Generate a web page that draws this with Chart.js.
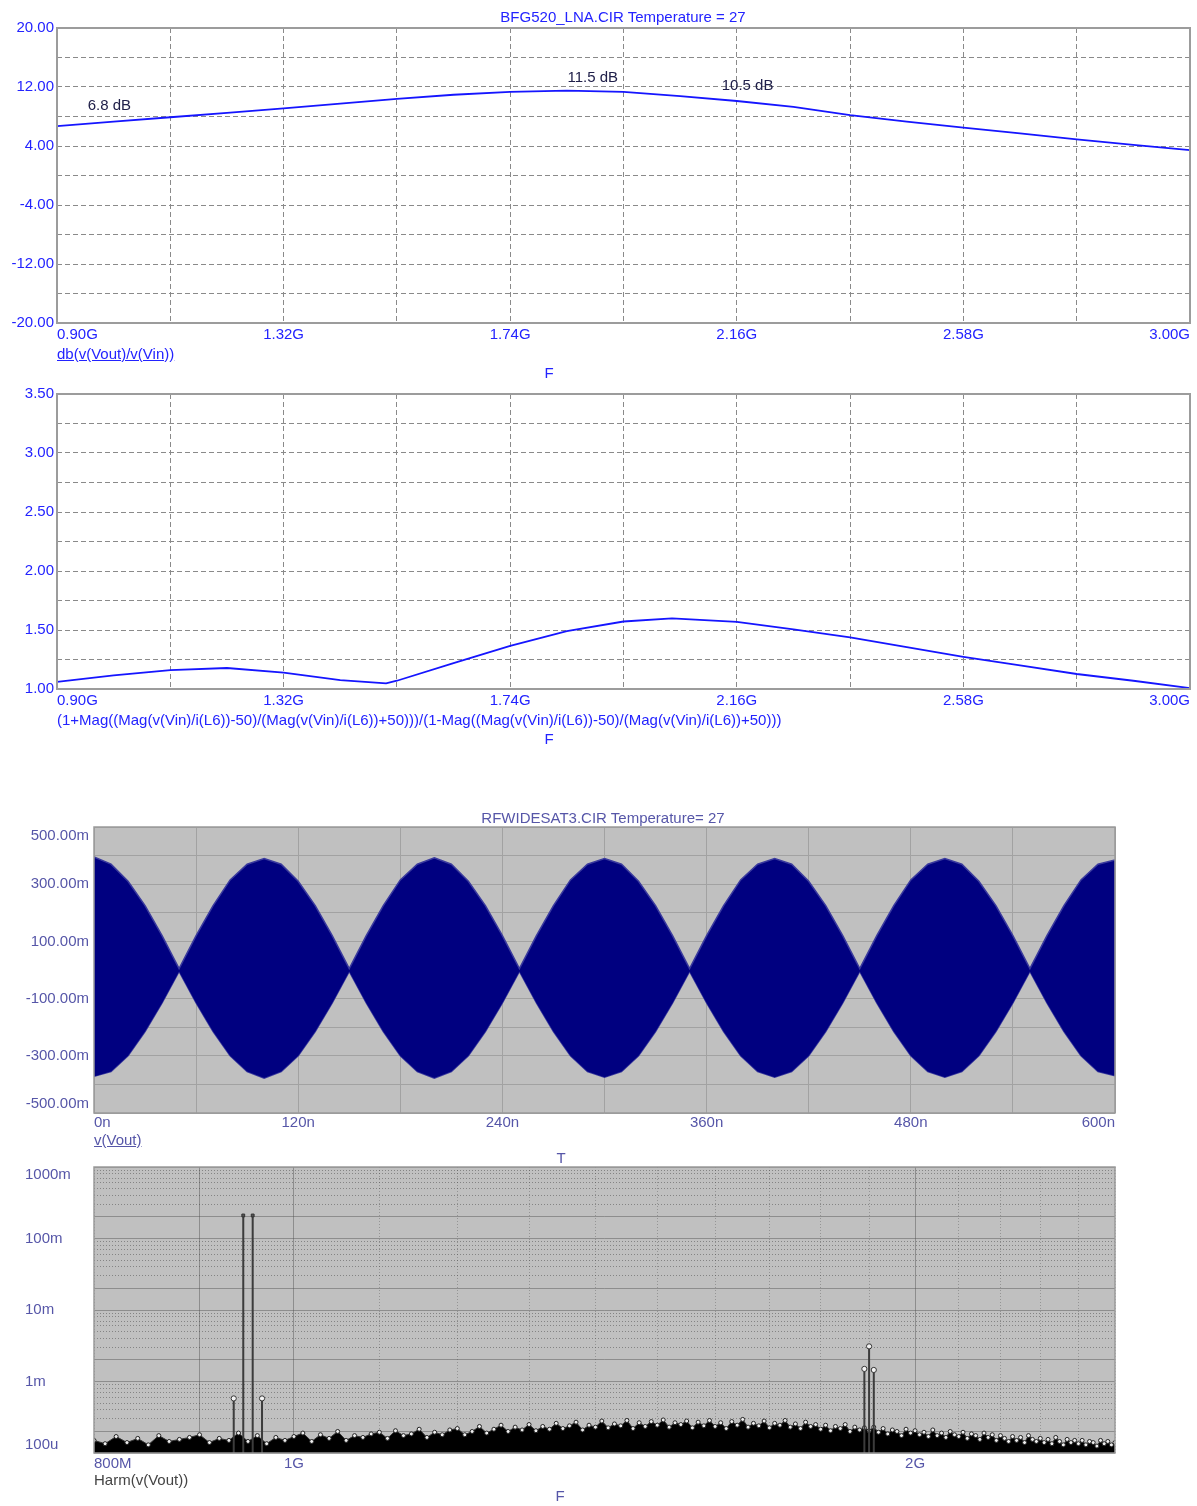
<!DOCTYPE html>
<html>
<head>
<meta charset="utf-8">
<title>BFG520 LNA / RFWIDESAT3</title>
<script src="https://cdn.jsdelivr.net/npm/chart.js@4.4.1/dist/chart.umd.min.js"></script>
<style>
  body { margin: 0; background: #fff; font-family: "Liberation Sans", Arial, sans-serif; }
  #page { position: relative; width: 1197px; height: 1506px; overflow: hidden; }
  canvas { position: absolute; left: 0; }
  .lbl { position: absolute; font-size: 15px; line-height: 16px; white-space: nowrap; }
  .mid { transform: translateX(-50%); }
  .blue { color: #2323ff; }
  .slate { color: #5656a8; }
</style>
</head>
<body>
<div id="page">
  <canvas id="gainChart" width="1197" height="350" style="top:0px"></canvas>
  <canvas id="vswrChart" width="1197" height="335" style="top:380px"></canvas>
  <canvas id="waveChart" width="1197" height="335" style="top:800px"></canvas>
  <canvas id="harmChart" width="1197" height="330" style="top:1150px"></canvas>

  <div class="lbl mid blue" style="left:623px;top:9px">BFG520_LNA.CIR Temperature = 27</div>
  <div class="lbl blue" style="left:57px;top:346px;text-decoration:underline">db(v(Vout)/v(Vin))</div>
  <div class="lbl mid blue" style="left:549px;top:365px">F</div>
  <div class="lbl blue" style="left:57px;top:712px">(1+Mag((Mag(v(Vin)/i(L6))-50)/(Mag(v(Vin)/i(L6))+50)))/(1-Mag((Mag(v(Vin)/i(L6))-50)/(Mag(v(Vin)/i(L6))+50)))</div>
  <div class="lbl mid blue" style="left:549px;top:731px">F</div>
  <div class="lbl mid slate" style="left:603px;top:810px">RFWIDESAT3.CIR Temperature= 27</div>
  <div class="lbl slate" style="left:94px;top:1132px;text-decoration:underline">v(Vout)</div>
  <div class="lbl mid slate" style="left:561px;top:1150px">T</div>
  <div class="lbl" style="left:94px;top:1472px;color:#444">Harm(v(Vout))</div>
  <div class="lbl mid slate" style="left:560px;top:1488px">F</div>
</div>

<script>
// --- gain, dB vs GHz
const gainFreqGHz = [0.900, 1.005, 1.110, 1.215, 1.320, 1.425, 1.530, 1.635, 1.740, 1.845, 1.950,
                     2.055, 2.160, 2.265, 2.370, 2.475, 2.580, 2.685, 2.790, 2.895, 3.000];
const gainDb = [6.7, 7.3, 7.9, 8.5, 9.1, 9.75, 10.4, 10.95, 11.35, 11.5, 11.35,
                10.75, 10.1, 9.3, 8.2, 7.3, 6.5, 5.7, 4.9, 4.15, 3.45];
const gainNotes = ['6.8 dB', '11.5 dB', '10.5 dB'];
const gainNoteFreq = [0.997, 1.893, 2.18];
const gainNoteDb = [9.4, 13.3, 12.1];

// --- input VSWR vs GHz
const vswrFreqGHz = [0.900, 1.005, 1.110, 1.215, 1.320, 1.425, 1.510, 1.530, 1.635, 1.740, 1.845,
                     1.950, 2.040, 2.160, 2.265, 2.370, 2.475, 2.580, 2.685, 2.790, 2.895, 3.000];
const vswr = [1.06, 1.115, 1.16, 1.178, 1.138, 1.075, 1.048, 1.07, 1.22, 1.366, 1.49,
              1.572, 1.598, 1.569, 1.505, 1.437, 1.355, 1.273, 1.2, 1.127, 1.07, 1.008];

// shared frequency axis of the two top plots
const fGrid = [0.90, 1.11, 1.32, 1.53, 1.74, 1.95, 2.16, 2.37, 2.58, 2.79, 3.00];
const fLabels = ['0.90G', '', '1.32G', '', '1.74G', '', '2.16G', '', '2.58G', '', '3.00G'];
const gainGrid = [-20, -16, -12, -8, -4, 0, 4, 8, 12, 16, 20];
const gainLabels = ['-20.00', '', '-12.00', '', '-4.00', '', '4.00', '', '12.00', '', '20.00'];
const vswrGrid = [1.00, 1.25, 1.50, 1.75, 2.00, 2.25, 2.50, 2.75, 3.00, 3.25, 3.50];
const vswrLabels = ['1.00', '', '1.50', '', '2.00', '', '2.50', '', '3.00', '', '3.50'];

// --- transient v(Vout): envelope of the two-tone signal, ns / V
const waveTimeNs = [0, 10, 20, 30, 40, 50, 60, 70, 80, 90, 100, 110, 120, 130, 140, 150, 160, 170, 180, 190,
                    200, 210, 220, 230, 240, 250, 260, 270, 280, 290, 300, 310, 320, 330, 340, 350, 360, 370, 380, 390,
                    400, 410, 420, 430, 440, 450, 460, 470, 480, 490, 500, 510, 520, 530, 540, 550, 560, 570, 580, 590, 600];
const waveUpper = [0.395, 0.37, 0.31, 0.225, 0.12, 0.005, 0.12, 0.225, 0.315, 0.37, 0.39, 0.37, 0.31, 0.225, 0.12, 0.005, 0.12, 0.225, 0.315, 0.37,
                   0.392, 0.37, 0.31, 0.225, 0.12, 0.005, 0.12, 0.225, 0.315, 0.37, 0.39, 0.37, 0.31, 0.225, 0.12, 0.005, 0.12, 0.225, 0.315, 0.37,
                   0.39, 0.37, 0.31, 0.225, 0.12, 0.005, 0.12, 0.225, 0.315, 0.37, 0.39, 0.37, 0.31, 0.225, 0.12, 0.005, 0.12, 0.225, 0.315, 0.37, 0.385];
const waveLower = [-0.372, -0.355, -0.3, -0.215, -0.115, -0.005, -0.115, -0.215, -0.3, -0.355, -0.378, -0.355, -0.3, -0.215, -0.115, -0.005, -0.115, -0.215, -0.3, -0.355,
                   -0.378, -0.355, -0.3, -0.215, -0.115, -0.005, -0.115, -0.215, -0.3, -0.355, -0.375, -0.355, -0.3, -0.215, -0.115, -0.005, -0.115, -0.215, -0.3, -0.355,
                   -0.375, -0.355, -0.3, -0.215, -0.115, -0.005, -0.115, -0.215, -0.3, -0.355, -0.375, -0.355, -0.3, -0.215, -0.115, -0.005, -0.115, -0.215, -0.3, -0.355, -0.37];
const waveTGrid = [0, 60, 120, 180, 240, 300, 360, 420, 480, 540, 600];
const waveTLabels = ['0n', '', '120n', '', '240n', '', '360n', '', '480n', '', '600n'];
const waveVGrid = [-0.5, -0.4, -0.3, -0.2, -0.1, 0, 0.1, 0.2, 0.3, 0.4, 0.5];
const waveVLabelValues = [0.5, 0.3, 0.1, -0.1, -0.3, -0.5];
const waveVLabels = ['500.00m', '300.00m', '100.00m', '-100.00m', '-300.00m', '-500.00m'];

// --- Harm(v(Vout)) spectrum: noise floor every 10 MHz from 0.80 to 2.50 GHz, in uV
const noiseFreqGHz = [
  0.80, 0.81, 0.82, 0.83, 0.84, 0.85, 0.86, 0.87, 0.88, 0.89,
  0.90, 0.91, 0.92, 0.93, 0.94, 0.95, 0.96, 0.97, 0.98, 0.99,
  1.00, 1.01, 1.02, 1.03, 1.04, 1.05, 1.06, 1.07, 1.08, 1.09,
  1.10, 1.11, 1.12, 1.13, 1.14, 1.15, 1.16, 1.17, 1.18, 1.19,
  1.20, 1.21, 1.22, 1.23, 1.24, 1.25, 1.26, 1.27, 1.28, 1.29,
  1.30, 1.31, 1.32, 1.33, 1.34, 1.35, 1.36, 1.37, 1.38, 1.39,
  1.40, 1.41, 1.42, 1.43, 1.44, 1.45, 1.46, 1.47, 1.48, 1.49,
  1.50, 1.51, 1.52, 1.53, 1.54, 1.55, 1.56, 1.57, 1.58, 1.59,
  1.60, 1.61, 1.62, 1.63, 1.64, 1.65, 1.66, 1.67, 1.68, 1.69,
  1.70, 1.71, 1.72, 1.73, 1.74, 1.75, 1.76, 1.77, 1.78, 1.79,
  1.80, 1.81, 1.82, 1.83, 1.84, 1.85, 1.86, 1.87, 1.88, 1.89,
  1.90, 1.91, 1.92, 1.93, 1.94, 1.95, 1.96, 1.97, 1.98, 1.99,
  2.00, 2.01, 2.02, 2.03, 2.04, 2.05, 2.06, 2.07, 2.08, 2.09,
  2.10, 2.11, 2.12, 2.13, 2.14, 2.15, 2.16, 2.17, 2.18, 2.19,
  2.20, 2.21, 2.22, 2.23, 2.24, 2.25, 2.26, 2.27, 2.28, 2.29,
  2.30, 2.31, 2.32, 2.33, 2.34, 2.35, 2.36, 2.37, 2.38, 2.39,
  2.40, 2.41, 2.42, 2.43, 2.44, 2.45, 2.46, 2.47, 2.48, 2.49,
  2.50];
const noiseLevelUv = [
  150, 135, 170, 140, 160, 130, 175, 145, 155, 165,
  180, 140, 160, 150, 190, 145, 175, 135, 165, 150,
  170, 190, 145, 180, 160, 200, 150, 175, 165, 185,
  195, 160, 205, 175, 185, 215, 165, 195, 180, 210,
  220, 180, 200, 235, 190, 215, 245, 200, 230, 210,
  250, 205, 235, 215, 260, 220, 240, 270, 210, 245,
  230, 280, 225, 255, 240, 285, 220, 265, 235, 275,
  245, 290, 230, 265, 250, 280, 225, 270, 240, 285,
  235, 265, 220, 275, 245, 295, 230, 260, 240, 280,
  225, 260, 245, 285, 230, 255, 220, 270, 235, 250,
  215, 245, 205, 235, 220, 250, 200, 230, 210, 225,
  205, 230, 195, 220, 185, 210, 200, 175, 215, 190,
  205, 180, 195, 170, 210, 175, 190, 165, 200, 180,
  170, 195, 160, 185, 175, 155, 190, 165, 180, 150,
  175, 160, 145, 170, 150, 165, 140, 175, 155, 145,
  160, 140, 155, 135, 165, 145, 130, 155, 140, 150,
  135, 150, 130, 145, 140, 125, 150, 135, 145, 130,
  140];
const spikeFreqGHz = [0.935, 0.945, 0.955, 0.965, 1.89, 1.90, 1.91];
const spikeLevel = [5.8e-4, 0.21, 0.21, 5.8e-4, 1.5e-3, 3.1e-3, 1.45e-3];
const harmFGrid = [0.8, 0.9, 1.0, 1.1, 1.2, 1.3, 1.4, 1.5, 1.6, 1.7, 1.8, 1.9, 2.0, 2.1, 2.2, 2.3, 2.4, 2.5];
const harmFLabels = ['800M', '', '1G', '', '', '', '', '', '', '', '', '', '2G', '', '', '', '', ''];
const harmDecades = [1e-4, 1e-3, 1e-2, 1e-1, 1];
const harmVLabels = ['100u', '1m', '10m', '100m', '1000m'];

const fam = '"Liberation Sans", Arial, sans-serif';
const blue = '#2323ff';
const slate = '#5656a8';

const fixedTicks = values => s => { s.ticks = values.map(v => ({ value: v })); };

function plotFrame(fill, stroke, width) {
  return {
    id: 'plotFrame',
    beforeDraw(chart) {
      if (!fill) return;
      const a = chart.chartArea, ctx = chart.ctx;
      ctx.save();
      ctx.fillStyle = fill;
      ctx.fillRect(a.left, a.top, a.right - a.left, a.bottom - a.top);
      ctx.restore();
    },
    afterDraw(chart) {
      const a = chart.chartArea, ctx = chart.ctx;
      ctx.save();
      ctx.strokeStyle = stroke;
      ctx.lineWidth = width;
      ctx.strokeRect(a.left, a.top, a.right - a.left, a.bottom - a.top);
      ctx.restore();
    }
  };
}

// y labels kept inside the plot height, like the simulator does
function sideLabels(values, labels, align, dx, inset) {
  return {
    id: 'sideLabels',
    afterDraw(chart) {
      const a = chart.chartArea, ctx = chart.ctx, ys = chart.scales.y;
      ctx.save();
      ctx.font = '15px ' + fam;
      ctx.fillStyle = slate;
      ctx.textAlign = align;
      ctx.textBaseline = 'middle';
      values.forEach((v, i) => {
        const py = Math.min(Math.max(ys.getPixelForValue(v), a.top + inset), a.bottom - inset);
        ctx.fillText(labels[i], a.left + dx, py);
      });
      ctx.restore();
    }
  };
}

const gainNotesPlugin = {
  id: 'gainNotes',
  afterDatasetsDraw(chart) {
    const ctx = chart.ctx, xs = chart.scales.x, ys = chart.scales.y;
    ctx.save();
    ctx.font = '15px ' + fam;
    ctx.fillStyle = '#20204a';
    ctx.textAlign = 'center';
    ctx.textBaseline = 'middle';
    gainNotes.forEach((t, i) => ctx.fillText(t, xs.getPixelForValue(gainNoteFreq[i]), ys.getPixelForValue(gainNoteDb[i])));
    ctx.restore();
  }
};

function topPlot(id, freqs, vals, yMin, yMax, yGrid, yLabels, padTop, xHeight, extra) {
  return new Chart(document.getElementById(id), {
    type: 'line',
    data: {
      datasets: [{
        data: freqs.map((f, i) => ({ x: f, y: vals[i] })),
        borderColor: '#1515ff',
        borderWidth: 1.8,
        pointRadius: 0,
        tension: 0
      }]
    },
    options: {
      responsive: false,
      animation: false,
      events: [],
      layout: { padding: { top: padTop, right: 7, left: 0, bottom: 0 } },
      plugins: { legend: { display: false }, tooltip: { enabled: false } },
      scales: {
        x: {
          type: 'linear', min: 0.9, max: 3.0,
          afterBuildTicks: fixedTicks(fGrid),
          afterFit: s => { s.height = xHeight; },
          grid: { color: '#8a8a8a', lineWidth: 1, drawTicks: false },
          border: { display: false, dash: [5, 3] },
          ticks: {
            autoSkip: false, maxRotation: 0, align: 'inner', padding: 3,
            color: blue, font: { family: fam, size: 15 },
            callback: (v, i) => fLabels[i]
          }
        },
        y: {
          type: 'linear', min: yMin, max: yMax,
          afterBuildTicks: fixedTicks(yGrid),
          afterFit: s => { s.width = 57; },
          grid: { color: '#8a8a8a', lineWidth: 1, drawTicks: false },
          border: { display: false, dash: [5, 3] },
          ticks: {
            autoSkip: false, padding: 3,
            color: blue, font: { family: fam, size: 15 },
            callback: (v, i) => yLabels[i]
          }
        }
      }
    },
    plugins: [plotFrame(null, '#9c9c9c', 2)].concat(extra)
  });
}

topPlot('gainChart', gainFreqGHz, gainDb, -20, 20, gainGrid, gainLabels, 28, 27, [gainNotesPlugin]);
topPlot('vswrChart', vswrFreqGHz, vswr, 1, 3.5, vswrGrid, vswrLabels, 14, 26, []);

// transient waveform
new Chart(document.getElementById('waveChart'), {
  type: 'line',
  data: {
    datasets: [
      {
        data: waveTimeNs.map((t, i) => ({ x: t, y: waveUpper[i] })),
        borderColor: '#3a3a9e', borderWidth: 1.5, backgroundColor: '#000080',
        fill: '+1', pointRadius: 0, tension: 0
      },
      {
        data: waveTimeNs.map((t, i) => ({ x: t, y: waveLower[i] })),
        borderColor: '#3a3a9e', borderWidth: 1.5, fill: false, pointRadius: 0, tension: 0
      }
    ]
  },
  options: {
    responsive: false,
    animation: false,
    events: [],
    layout: { padding: { top: 27, right: 82, left: 0, bottom: 0 } },
    plugins: { legend: { display: false }, tooltip: { enabled: false } },
    scales: {
      x: {
        type: 'linear', min: 0, max: 600,
        afterBuildTicks: fixedTicks(waveTGrid),
        afterFit: s => { s.height = 22; },
        grid: { color: '#a2a2a2', lineWidth: 1, drawTicks: false },
        border: { display: false },
        ticks: {
          autoSkip: false, maxRotation: 0, align: 'inner', padding: 1,
          color: slate, font: { family: fam, size: 15 },
          callback: (v, i) => waveTLabels[i]
        }
      },
      y: {
        type: 'linear', min: -0.5, max: 0.5,
        afterBuildTicks: fixedTicks(waveVGrid),
        afterFit: s => { s.width = 94; },
        grid: { color: '#a2a2a2', lineWidth: 1, drawTicks: false },
        border: { display: false },
        ticks: { display: false }
      }
    }
  },
  plugins: [plotFrame('#c0c0c0', '#9a9a9a', 1.5), sideLabels(waveVLabelValues, waveVLabels, 'right', -5, 9)]
});

// harmonic spectrum
const harmVGrid = harmDecades.slice(0, -1).flatMap(d => [1, 2, 3, 4, 5, 6, 7, 8, 9].map(m => m * d)).concat([1]);
const mantissa = v => Math.round(v / Math.pow(10, Math.floor(Math.log10(v) + 1e-9)));
const stemPoints = [];
spikeFreqGHz.forEach((f, i) => {
  stemPoints.push({ x: f, y: 1e-4 }, { x: f, y: spikeLevel[i] }, { x: f, y: null });
});

new Chart(document.getElementById('harmChart'), {
  type: 'line',
  data: {
    datasets: [
      {
        data: spikeFreqGHz.map((f, i) => ({ x: f, y: spikeLevel[i] })),
        showLine: false,
        pointStyle: spikeLevel.map(v => v > 0.1 ? 'rect' : 'circle'),
        pointRadius: spikeLevel.map(v => v > 0.1 ? 2 : 2.6),
        pointBackgroundColor: spikeLevel.map(v => v > 0.1 ? '#555' : '#f4f4f4'),
        pointBorderColor: '#333',
        pointBorderWidth: 1,
        order: 1
      },
      {
        data: stemPoints,
        borderColor: '#3c3c3c', borderWidth: 2, pointRadius: 0, spanGaps: false, tension: 0,
        order: 2
      },
      {
        data: noiseFreqGHz.map((f, i) => ({ x: f, y: noiseLevelUv[i] / 1e6 })),
        borderColor: '#333', borderWidth: 1, backgroundColor: '#000', fill: 'start',
        pointRadius: 2, pointBackgroundColor: '#eeeeee', pointBorderColor: '#222', pointBorderWidth: 1,
        tension: 0,
        order: 3
      }
    ]
  },
  options: {
    responsive: false,
    animation: false,
    events: [],
    layout: { padding: { top: 17, right: 82, left: 0, bottom: 0 } },
    plugins: { legend: { display: false }, tooltip: { enabled: false } },
    scales: {
      x: {
        type: 'logarithmic', min: 0.8, max: 2.5,
        afterBuildTicks: fixedTicks(harmFGrid),
        afterFit: s => { s.height = 27; },
        grid: {
          drawTicks: false, lineWidth: 1,
          color: c => c.tick && [0.9, 1.0, 2.0].includes(c.tick.value) ? 'rgba(80,80,80,0.45)' : 'rgba(70,70,70,0.35)'
        },
        border: {
          display: false,
          dash: c => c.tick && [0.9, 1.0, 2.0].includes(c.tick.value) ? [] : [1, 2]
        },
        ticks: {
          autoSkip: false, maxRotation: 0, align: 'inner', padding: 2,
          color: slate, font: { family: fam, size: 15 },
          callback: (v, i) => harmFLabels[i]
        }
      },
      y: {
        type: 'logarithmic', min: 1e-4, max: 1,
        afterBuildTicks: fixedTicks(harmVGrid),
        afterFit: s => { s.width = 94; },
        grid: {
          drawTicks: false, lineWidth: 1,
          color: c => c.tick && mantissa(c.tick.value) <= 2 ? 'rgba(80,80,80,0.45)' : 'rgba(60,60,60,0.45)'
        },
        border: {
          display: false,
          dash: c => c.tick && mantissa(c.tick.value) <= 2 ? [] : [1, 2]
        },
        ticks: { display: false }
      }
    }
  },
  plugins: [plotFrame('#c0c0c0', '#9a9a9a', 1.5), sideLabels(harmDecades, harmVLabels, 'left', -69, 8)]
});
</script>
</body>
</html>
